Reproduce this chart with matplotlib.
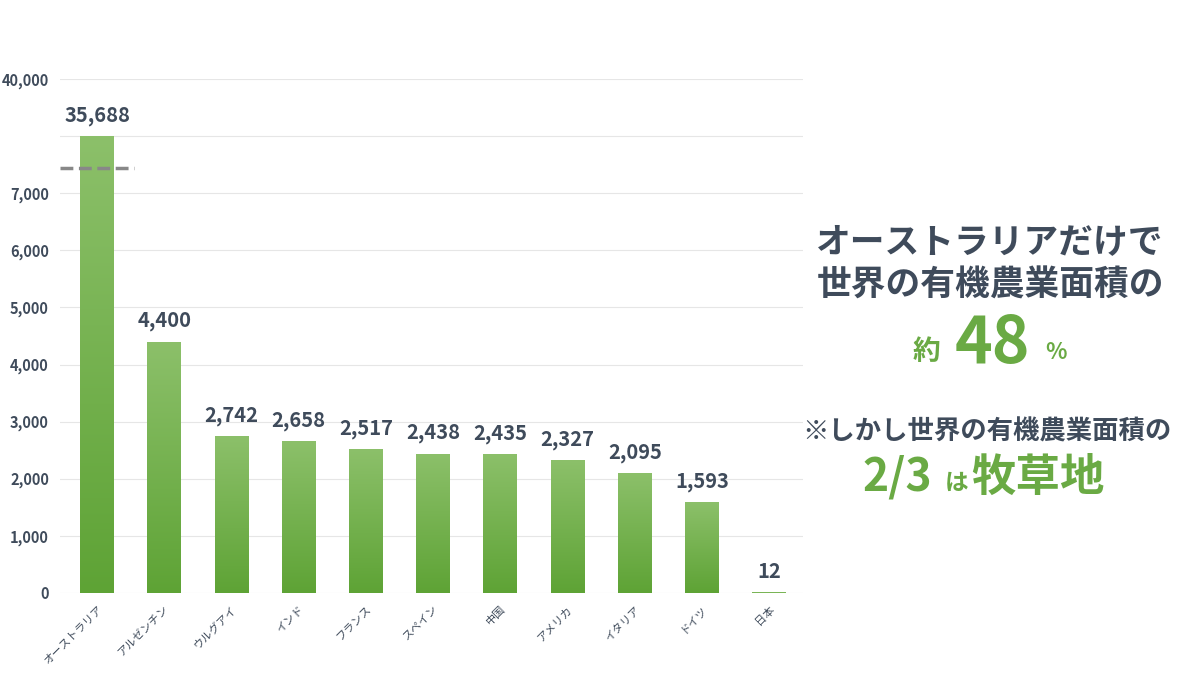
import matplotlib
matplotlib.use('Agg')
import matplotlib.pyplot as plt
import numpy as np
from matplotlib.colors import LinearSegmentedColormap

plt.rcParams['font.family'] = ['Noto Sans CJK JP', 'DejaVu Sans']

countries = ['オーストラリア', 'アルゼンチン', 'ウルグアイ', 'インド', 'フランス', 'スペイン',
             '中国', 'アメリカ', 'イタリア', 'ドイツ', '日本']
values = [35688, 4400, 2742, 2658, 2517, 2438, 2435, 2327, 2095, 1593, 12]
# broken axis: values above 7000 are drawn capped just above the break
tick_pos = [0, 1000, 2000, 3000, 4000, 5000, 6000, 7000, 8000, 9000]
tick_lab = ['0', '1,000', '2,000', '3,000', '4,000', '5,000', '6,000', '7,000', '', '40,000']

def to_axis(v):
    return v if v <= 7000 else 8000

DARK = '#3f4b5b'
GREEN = '#6aaa44'

fig = plt.figure(figsize=(12, 6.75), dpi=100)
ax = fig.add_axes([0.05, 0.1215, 0.619, 0.7615])
x = np.arange(len(countries))
heights = [to_axis(v) for v in values]
bars = ax.bar(x, heights, width=0.5, color='#74b24c', zorder=2)

grad = np.linspace(0, 1, 256).reshape(-1, 1)
cmap = LinearSegmentedColormap.from_list('g', ['#5ea335', '#8cc06a'])
for b in bars:
    x0, w, h = b.get_x(), b.get_width(), b.get_height()
    im = ax.imshow(grad, cmap=cmap, origin='lower', aspect='auto',
                   extent=(x0, x0 + w, 0, max(h, 1)), zorder=3)
    im.set_clip_path(b)

for xi, h, v in zip(x, heights, values):
    ax.text(xi, h + 180, f'{v:,}', ha='center', va='bottom', fontsize=14.5,
            fontweight='bold', color=DARK)

ax.plot([-0.55, 0.55], [7440, 7440], ls='--', lw=2.5, color='#888888', zorder=4)

ax.set_xlim(-0.55, len(countries) - 0.5)
ax.set_ylim(0, 9000)
ax.set_yticks(tick_pos)
ax.set_yticklabels(tick_lab, fontsize=10.5, color=DARK, fontweight='bold')
ax.set_xticks(x)
ax.set_xticklabels(countries, rotation=45, ha='right', rotation_mode='anchor',
                   fontsize=8, color=DARK)
ax.tick_params(length=0, pad=8)
ax.grid(axis='y', color='#e6e6e6', lw=0.8, zorder=0)
for s in ax.spines.values():
    s.set_visible(False)

fig.text(0.825, 0.61, 'オーストラリアだけで\n世界の有機農業面積の', ha='center', va='center',
         fontsize=25, fontweight='bold', color=DARK, linespacing=1.3)
fig.text(0.772, 0.478, '約', ha='center', va='center', fontsize=20, fontweight='bold', color=GREEN)
fig.text(0.827, 0.49, '48', ha='center', va='center', fontsize=46, fontweight='bold', color=GREEN)
fig.text(0.88, 0.478, '%', ha='center', va='center', fontsize=16, fontweight='bold', color=GREEN)
fig.text(0.822, 0.36, '※しかし世界の有機農業面積の', ha='center', va='center',
         fontsize=19, fontweight='bold', color=DARK)
fig.text(0.748, 0.292, '2/3', ha='center', va='center', fontsize=32, fontweight='bold', color=GREEN)
fig.text(0.797, 0.285, 'は', ha='center', va='center', fontsize=17, fontweight='bold', color=GREEN)
fig.text(0.865, 0.292, '牧草地', ha='center', va='center', fontsize=32, fontweight='bold', color=GREEN)

fig.savefig('out.png', dpi=100, facecolor='white')
